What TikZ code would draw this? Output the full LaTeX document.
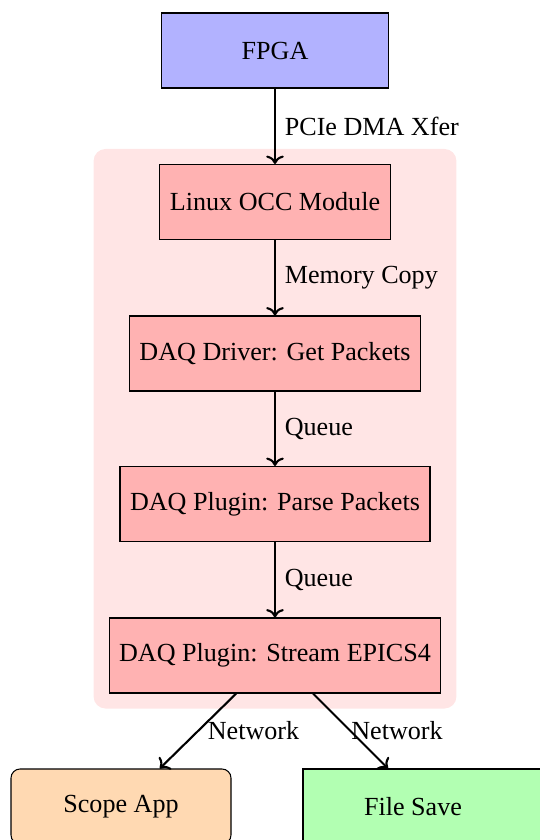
\documentclass[tikz,border=0pt]{standalone}
\usepackage{fontspec}
\setmainfont{Liberation Serif}
\usetikzlibrary{fit,backgrounds,arrows.meta}
\begin{document}
\begin{tikzpicture}[x=1pt,y=-1pt, font=\fontsize{26.1}{31}\selectfont,
  box/.style={draw=black, line width=1.05pt, minimum height=75pt, inner xsep=10pt, inner ysep=0pt},
  pinkbox/.style={box, fill=red!30},
  conn/.style={-{To[scale=1.35]}, line width=2.1pt},
  lab/.style={anchor=west, inner sep=8.8pt}]
\useasboundingbox (0,0) rectangle (539,840);
\node[box, fill=blue!30, minimum width=227pt] (fpga) at (275,50.5) {FPGA};
\node[pinkbox] (linux) at (275,202) {Linux OCC Module};
\node[pinkbox] (driver) at (275,353.5) {DAQ Driver: Get Packets};
\node[pinkbox] (parse) at (275,504) {DAQ Plugin: Parse Packets};
\node[pinkbox] (stream) at (275,655.5) {DAQ Plugin: Stream EPICS4};
\node[box, fill=orange!30, rounded corners=9pt, minimum width=220pt] (scope) at (121,806.5) {Scope App};
\node[box, fill=green!30, minimum width=246pt] (save) at (426,806.5) {File Save\hspace*{26pt}};
\begin{scope}[on background layer]
\node[fit=(linux)(driver)(parse)(stream), inner sep=15pt, rounded corners=12pt, fill=red!10] (bg) {};
\end{scope}
\draw[conn] (fpga) -- node[lab]{PCIe DMA Xfer} (linux);
\draw[conn] (linux) -- node[lab]{Memory Copy} (driver);
\draw[conn] (driver) -- node[lab]{Queue} (parse);
\draw[conn] (parse) -- node[lab]{Queue} (stream);
\draw[conn] (stream) -- node[lab]{Network} (scope);
\draw[conn] (stream) -- node[lab, xshift=-9pt]{Network} (save);
\end{tikzpicture}
\end{document}
